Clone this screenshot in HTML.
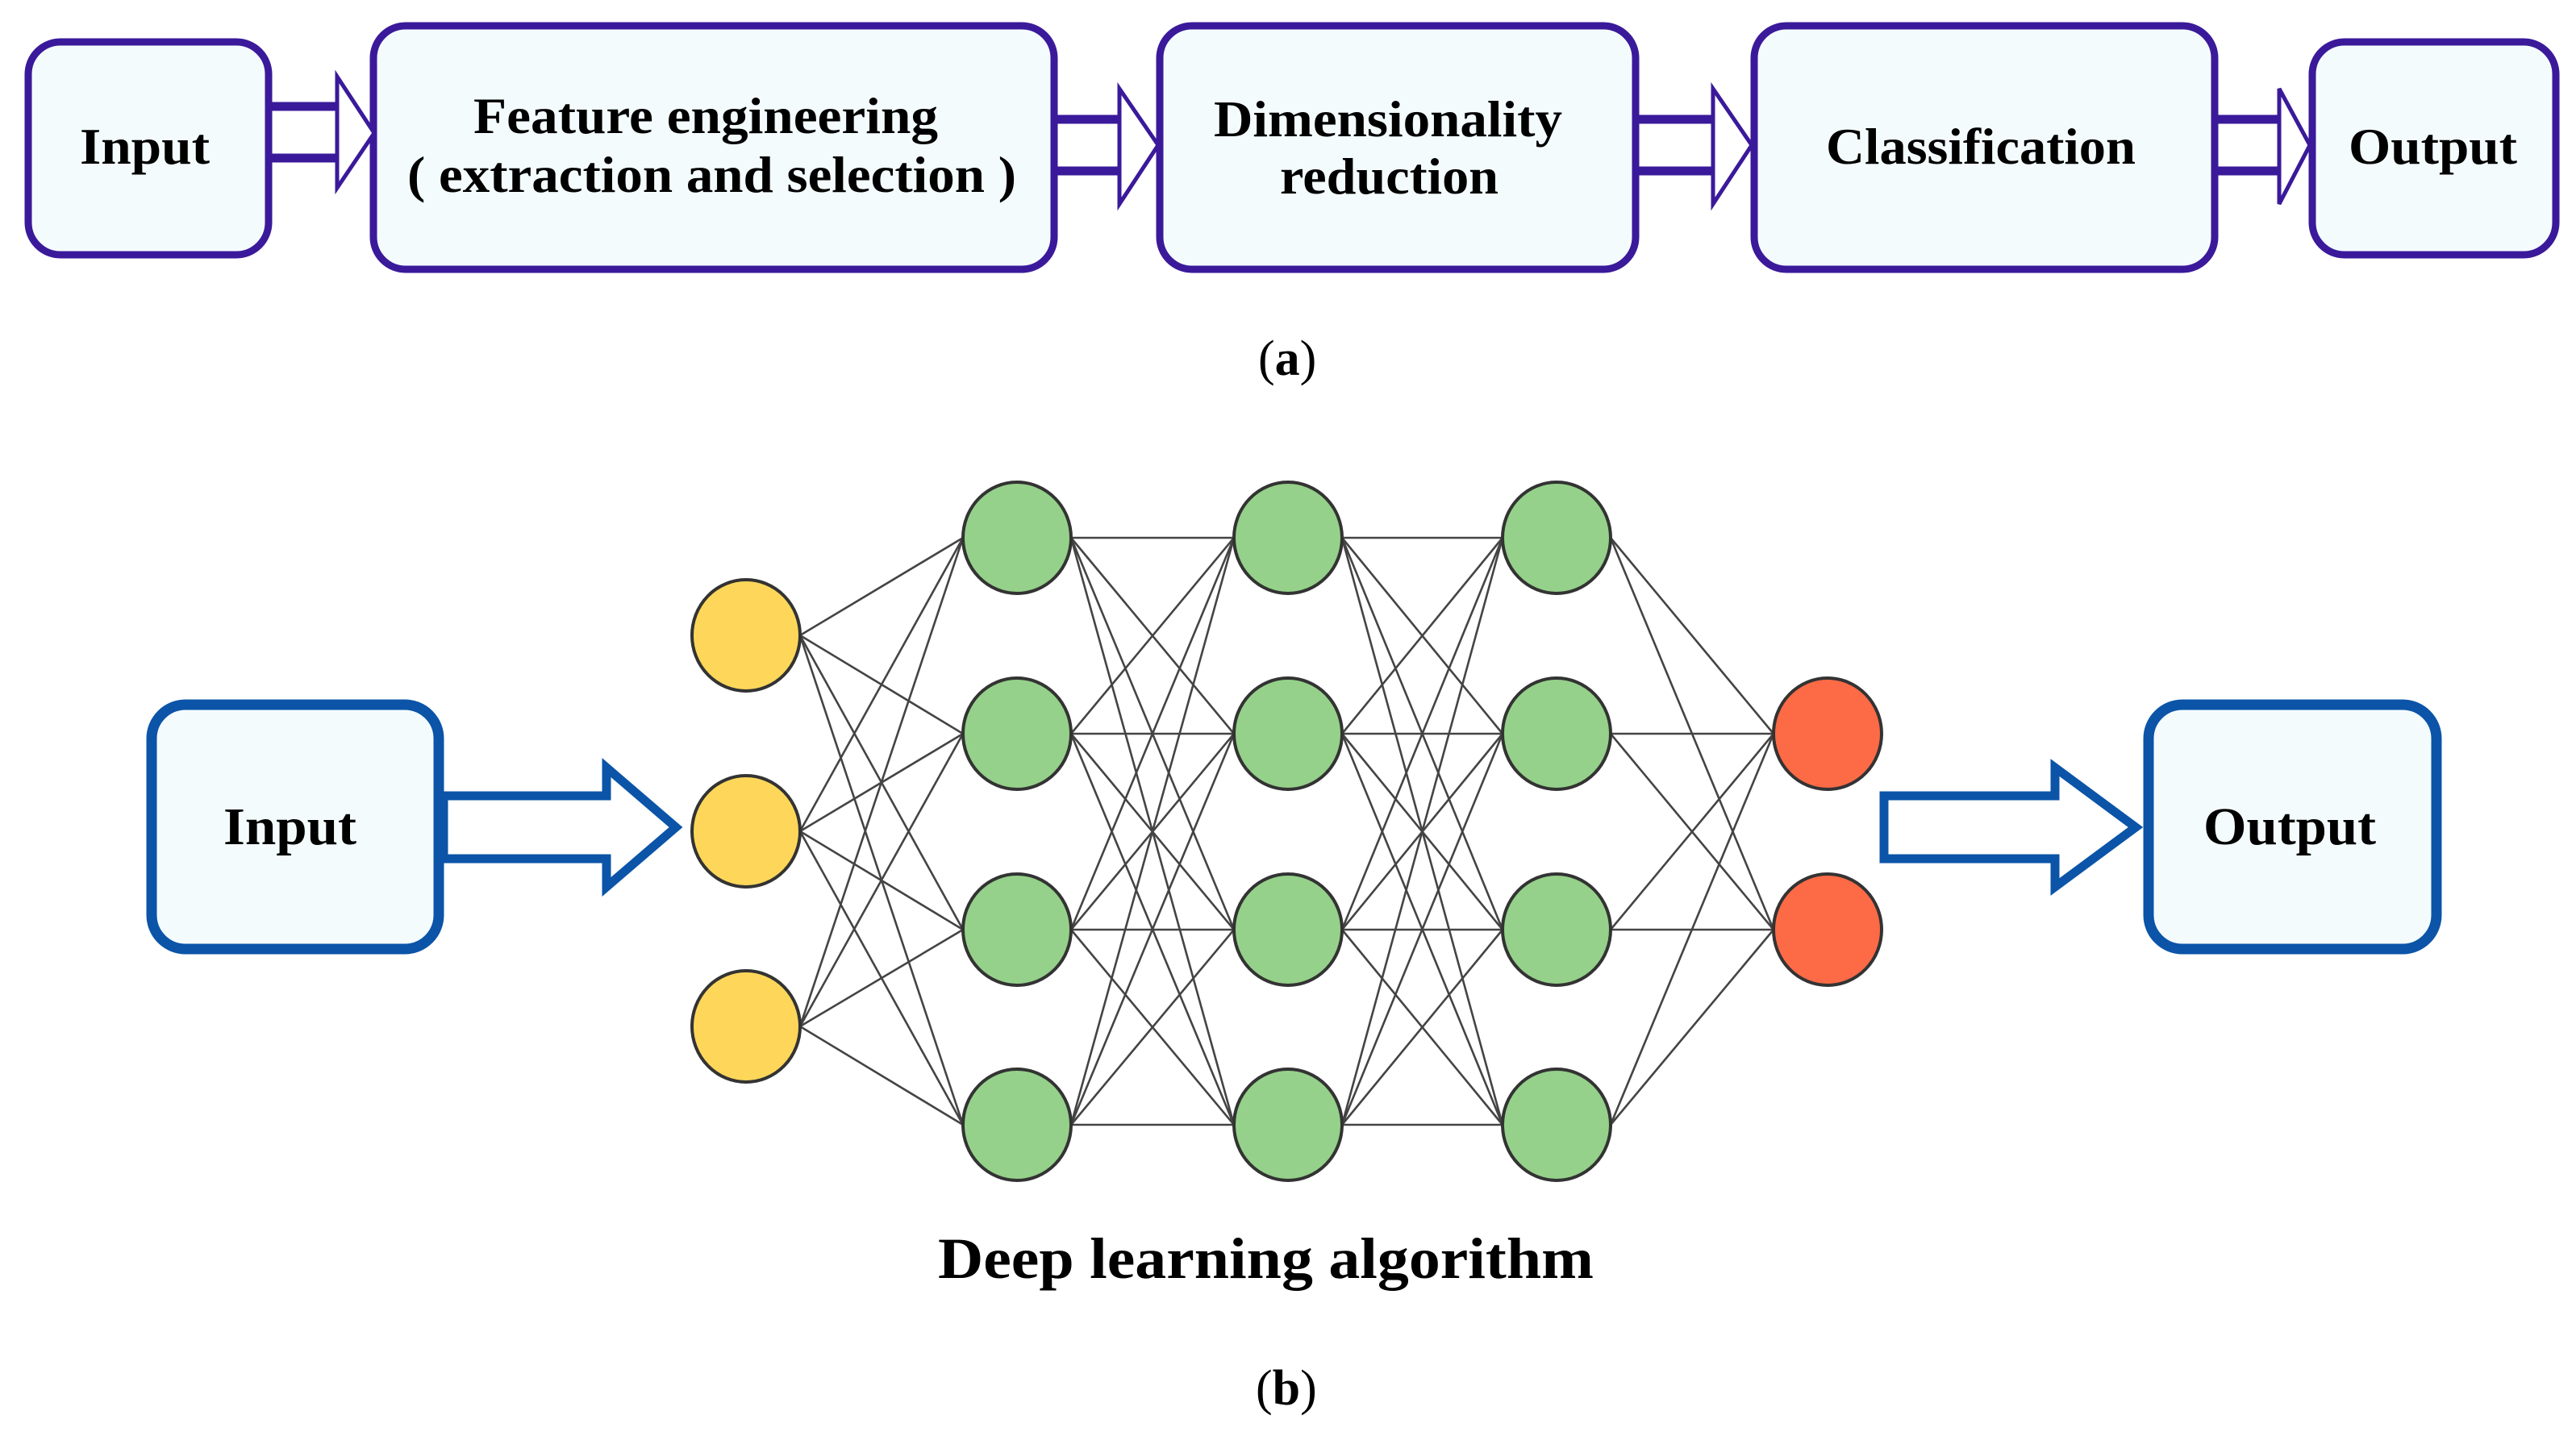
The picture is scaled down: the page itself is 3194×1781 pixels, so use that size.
<!DOCTYPE html>
<html><head><meta charset="utf-8"><style>
html,body{margin:0;padding:0;background:#fff;}
svg{display:block;}
text{font-family:"Liberation Serif",serif;font-weight:bold;fill:#000;}
</style></head><body>
<svg width="3194" height="1781" viewBox="0 0 3194 1781" xmlns="http://www.w3.org/2000/svg">
<g fill="#f4fbfd" stroke="#3a1a9a" stroke-width="9">
<rect x="35" y="52" width="298" height="264" rx="40"/>
<rect x="463" y="32" width="844" height="302" rx="40"/>
<rect x="1438" y="32" width="590" height="302" rx="40"/>
<rect x="2175" y="32" width="571" height="302" rx="40"/>
<rect x="2867" y="52" width="302" height="264" rx="40"/>
</g>
<g fill="#fff" stroke="#3a1a9a">
<g stroke-width="5">
<polygon points="418,95 464,165 418,233"/>
<polygon points="1388,110 1436,180 1388,253"/>
<polygon points="2124,110 2172,180 2124,253"/>
<polygon points="2826,110 2864,180 2826,253"/>
</g>
<g stroke-width="11">
<line x1="333" y1="132" x2="420" y2="132"/><line x1="333" y1="196" x2="420" y2="196"/>
<line x1="1307" y1="148" x2="1390" y2="148"/><line x1="1307" y1="212" x2="1390" y2="212"/>
<line x1="2028" y1="148" x2="2126" y2="148"/><line x1="2028" y1="212" x2="2126" y2="212"/>
<line x1="2746" y1="148" x2="2828" y2="148"/><line x1="2746" y1="212" x2="2828" y2="212"/>
</g>
</g>
<text x="99" y="203" font-size="64" textLength="161" lengthAdjust="spacingAndGlyphs">Input</text>
<text x="587" y="165" font-size="64" textLength="576" lengthAdjust="spacingAndGlyphs">Feature engineering</text>
<text x="505" y="238" font-size="64" textLength="755" lengthAdjust="spacingAndGlyphs">( extraction and selection )</text>
<text x="1505" y="169" font-size="64" textLength="432" lengthAdjust="spacingAndGlyphs">Dimensionality</text>
<text x="1587" y="240" font-size="64" textLength="271" lengthAdjust="spacingAndGlyphs">reduction</text>
<text x="2264" y="203" font-size="64" textLength="384" lengthAdjust="spacingAndGlyphs">Classification</text>
<text x="2912" y="203" font-size="64" textLength="209" lengthAdjust="spacingAndGlyphs">Output</text>
<text x="1560" y="465" font-size="62" style="font-weight:normal">(<tspan font-weight="bold">a</tspan>)</text>

<g fill="#f4fbfd" stroke="#0b54a8" stroke-width="13">
<rect x="188" y="874" width="356" height="303" rx="42"/>
<rect x="2664" y="874" width="357" height="303" rx="42"/>
</g>
<g fill="#fff" stroke="#0b54a8" stroke-width="11">
<polygon points="550,987 752,987 752,952 838,1026 752,1100 752,1065 550,1065"/>
<polygon points="2336,987 2548,987 2548,952 2648,1026 2548,1100 2548,1065 2336,1065"/>
</g>
<text x="277" y="1047" font-size="66" textLength="165" lengthAdjust="spacingAndGlyphs">Input</text>
<text x="2732" y="1047" font-size="66" textLength="214" lengthAdjust="spacingAndGlyphs">Output</text>

<g stroke="#444" stroke-width="2.6" id="lines"></g>
<g stroke="#333" stroke-width="4" id="nodes"></g>
<text x="1163" y="1585" font-size="72" textLength="813" lengthAdjust="spacingAndGlyphs">Deep learning algorithm</text>
<text x="1557" y="1742" font-size="62" style="font-weight:normal">(<tspan font-weight="bold">b</tspan>)</text>
</svg>
<script>
(function(){
var NS="http://www.w3.org/2000/svg";
var cols=[{x:925,ys:[788,1031,1273],c:"#fed75a"},{x:1261,ys:[667,910,1153,1395],c:"#95d18a"},{x:1597,ys:[667,910,1153,1395],c:"#95d18a"},{x:1930,ys:[667,910,1153,1395],c:"#95d18a"},{x:2266,ys:[910,1153],c:"#fd6a46"}];
var r=67;
var L=document.getElementById("lines"),N=document.getElementById("nodes");
for(var i=0;i<cols.length-1;i++){var a=cols[i],b=cols[i+1];
a.ys.forEach(function(y1){b.ys.forEach(function(y2){var l=document.createElementNS(NS,"line");
l.setAttribute("x1",a.x+r);l.setAttribute("y1",y1);l.setAttribute("x2",b.x-r);l.setAttribute("y2",y2);L.appendChild(l);});});}
cols.forEach(function(c){c.ys.forEach(function(y){var e=document.createElementNS(NS,"ellipse");
e.setAttribute("cx",c.x);e.setAttribute("cy",y);e.setAttribute("rx",r);e.setAttribute("ry",69);e.setAttribute("fill",c.c);N.appendChild(e);});});
})();
</script>
</body></html>
